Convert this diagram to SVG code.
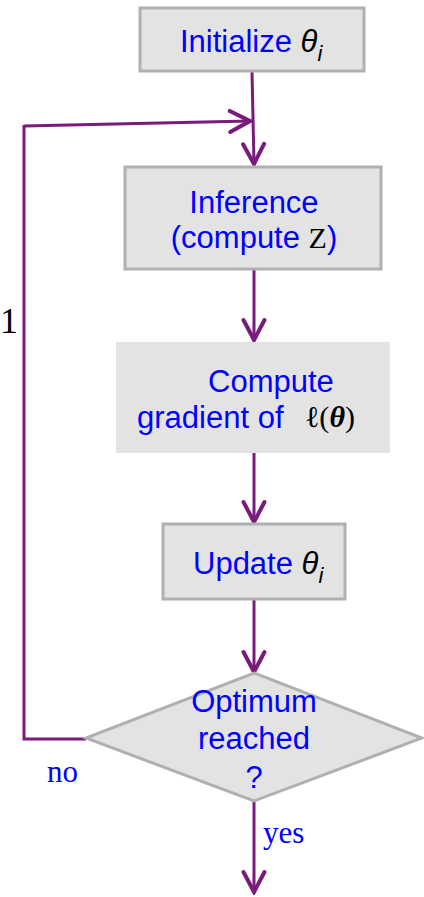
<svg xmlns="http://www.w3.org/2000/svg" width="424" height="897" viewBox="0 0 424 897">
  <defs>
    <!-- open chevron head, drawn along +x so orient="auto" turns it with the line -->
    <marker id="chev" viewBox="-24 -13 27 26" markerWidth="27" markerHeight="26" refX="0" refY="0" orient="auto" markerUnits="userSpaceOnUse">
      <path d="M-20,-10.5 L0,0 L-20,10.5" fill="none" stroke="#7a1a7a" stroke-width="4" stroke-linecap="round"/>
    </marker>
  </defs>
  <style>
    .box { fill: #e3e3e3; stroke: #b0b0b0; stroke-width: 3; }
    .plain { fill: #e3e3e3; stroke: none; }
    .lbl { font-family: "Liberation Sans", Arial, sans-serif; font-size: 31px; fill: #0000ff; }
    .math { font-family: "Liberation Sans", Arial, sans-serif; font-style: italic; fill: #000000; }
    .serif { font-family: "Liberation Serif", "Times New Roman", serif; fill: #000000; }
    .note { font-family: "Liberation Serif", "Times New Roman", serif; font-size: 31px; fill: #0000ff; }
    .wire { fill: none; stroke: #7a1a7a; stroke-width: 3; }
    .arrow { marker-end: url(#chev); }
  </style>

  <g id="connectors">
    <line class="wire arrow" x1="252" y1="72" x2="254" y2="164"/>
    <line class="wire arrow" x1="24" y1="126" x2="250" y2="121"/>
    <polyline class="wire" points="86,739 24,739 24,125"/>
    <line class="wire arrow" x1="254" y1="270" x2="254" y2="340"/>
    <line class="wire arrow" x1="254" y1="453" x2="254" y2="522"/>
    <line class="wire arrow" x1="254" y1="600" x2="254" y2="672"/>
    <line class="wire arrow" x1="254" y1="800" x2="254" y2="892"/>
  </g>

  <g id="init">
    <rect class="box" x="140" y="8" width="224" height="63"/>
    <text class="lbl" x="180" y="52">Initialize <tspan class="math">θ</tspan><tspan class="math" font-size="22" dy="9">i</tspan></text>
  </g>

  <g id="inference">
    <rect class="box" x="125" y="167" width="256" height="102"/>
    <text class="lbl" x="254" y="213" text-anchor="middle">Inference</text>
    <text class="lbl" x="254" y="248" text-anchor="middle">(compute <tspan class="serif" font-size="30">Z</tspan>)</text>
  </g>

  <g id="gradient">
    <rect class="plain" x="116" y="342" width="274" height="111"/>
    <text class="lbl" x="208" y="392">Compute</text>
    <text class="lbl" x="137" y="428">gradient of</text>
    <text class="serif" x="305" y="427" font-size="30">ℓ(<tspan font-style="italic" font-weight="bold">θ</tspan>)</text>
  </g>

  <g id="update">
    <rect class="box" x="163" y="524" width="182" height="75"/>
    <text class="lbl" x="193" y="574">Update <tspan class="math">θ</tspan><tspan class="math" font-size="22" dy="9">i</tspan></text>
  </g>

  <g id="optimum">
    <polygon class="box" points="254,673 422,738 254,801 86,738"/>
    <text class="lbl" x="254" y="712" text-anchor="middle">Optimum</text>
    <text class="lbl" x="254" y="749" text-anchor="middle">reached</text>
    <text class="lbl" x="254" y="788" text-anchor="middle">?</text>
  </g>

  <text class="note" x="47" y="782">no</text>
  <text class="note" x="263" y="843">yes</text>
  <text class="serif" x="0" y="333" font-size="36">1</text>
</svg>
